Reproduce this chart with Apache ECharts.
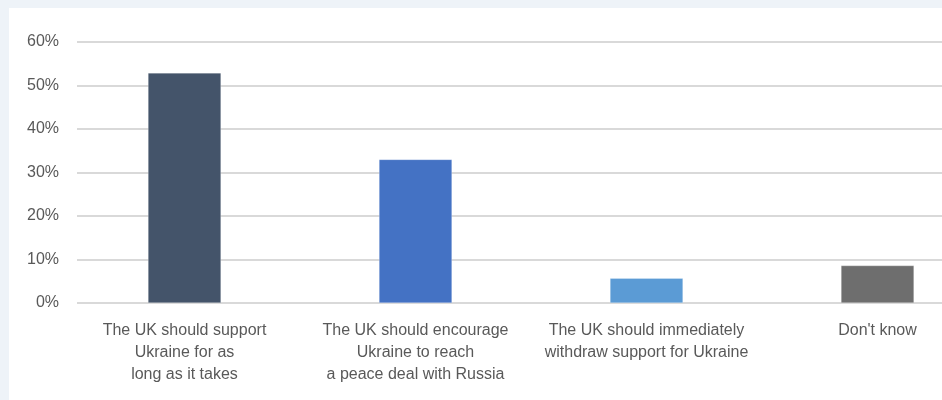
<!DOCTYPE html>
<html>
<head>
<meta charset="utf-8">
<script src="https://cdn.jsdelivr.net/npm/echarts@6/dist/echarts.min.js"></script>
<style>
  html, body { margin: 0; padding: 0; }
  #wrap { position: relative; width: 942px; height: 400px; background: #eef3f8; overflow: hidden; }
  #chart { position: absolute; left: 9px; top: 8px; width: 933px; height: 392px; background: #ffffff; }
</style>
</head>
<body>
<div id="wrap"><div id="chart"></div></div>
<script>
const categories = [
  'The UK should support\nUkraine for as\nlong as it takes',
  'The UK should encourage\nUkraine to reach\na peace deal with Russia',
  'The UK should immediately\nwithdraw support for Ukraine',
  "Don't know"
];
const values = [52.9, 33, 5.7, 8.6];
const barColors = ['#44546a', '#4472c4', '#5b9bd5', '#6e6e6e'];
const yMin = 0, yMax = 60, yStep = 10;

const myChart = echarts.init(document.getElementById('chart'), null, { renderer: 'canvas' });
const font = '"Liberation Sans", Arial, sans-serif';

const option = {
  animation: false,
  grid: [
    // gridlines + y labels
    { left: 68, right: 0, top: 34, height: 261, outerBoundsMode: 'none' },
    // bars (plot runs past the right edge, as in the cropped original)
    { left: 60, width: 924, top: 34, height: 261, outerBoundsMode: 'none' }
  ],
  xAxis: [
    { gridIndex: 0, type: 'value', show: false },
    {
      gridIndex: 1,
      type: 'category',
      data: categories,
      axisLine: { show: false },
      axisTick: { show: false },
      axisLabel: {
        interval: 0,
        margin: 17,
        color: '#595959',
        fontSize: 16,
        lineHeight: 22,
        fontFamily: font,
        align: 'center'
      }
    }
  ],
  yAxis: [
    {
      gridIndex: 0,
      type: 'value',
      min: yMin,
      max: yMax,
      interval: yStep,
      axisLine: { show: false },
      axisTick: { show: false },
      axisLabel: {
        formatter: '{value}%',
        margin: 18,
        color: '#595959',
        fontSize: 16,
        fontFamily: font
      },
      splitLine: { show: true, lineStyle: { color: '#d9d9d9', width: 2 } }
    },
    { gridIndex: 1, type: 'value', min: yMin, max: yMax, show: false }
  ],
  series: [
    {
      type: 'bar',
      xAxisIndex: 1,
      yAxisIndex: 1,
      barWidth: 73,
      data: values.map((v, i) => ({
        value: v,
        itemStyle: { color: barColors[i], borderColor: 'rgba(255,255,255,0.5)', borderWidth: 0.5 }
      }))
    }
  ]
};
myChart.setOption(option);
</script>
</body>
</html>
